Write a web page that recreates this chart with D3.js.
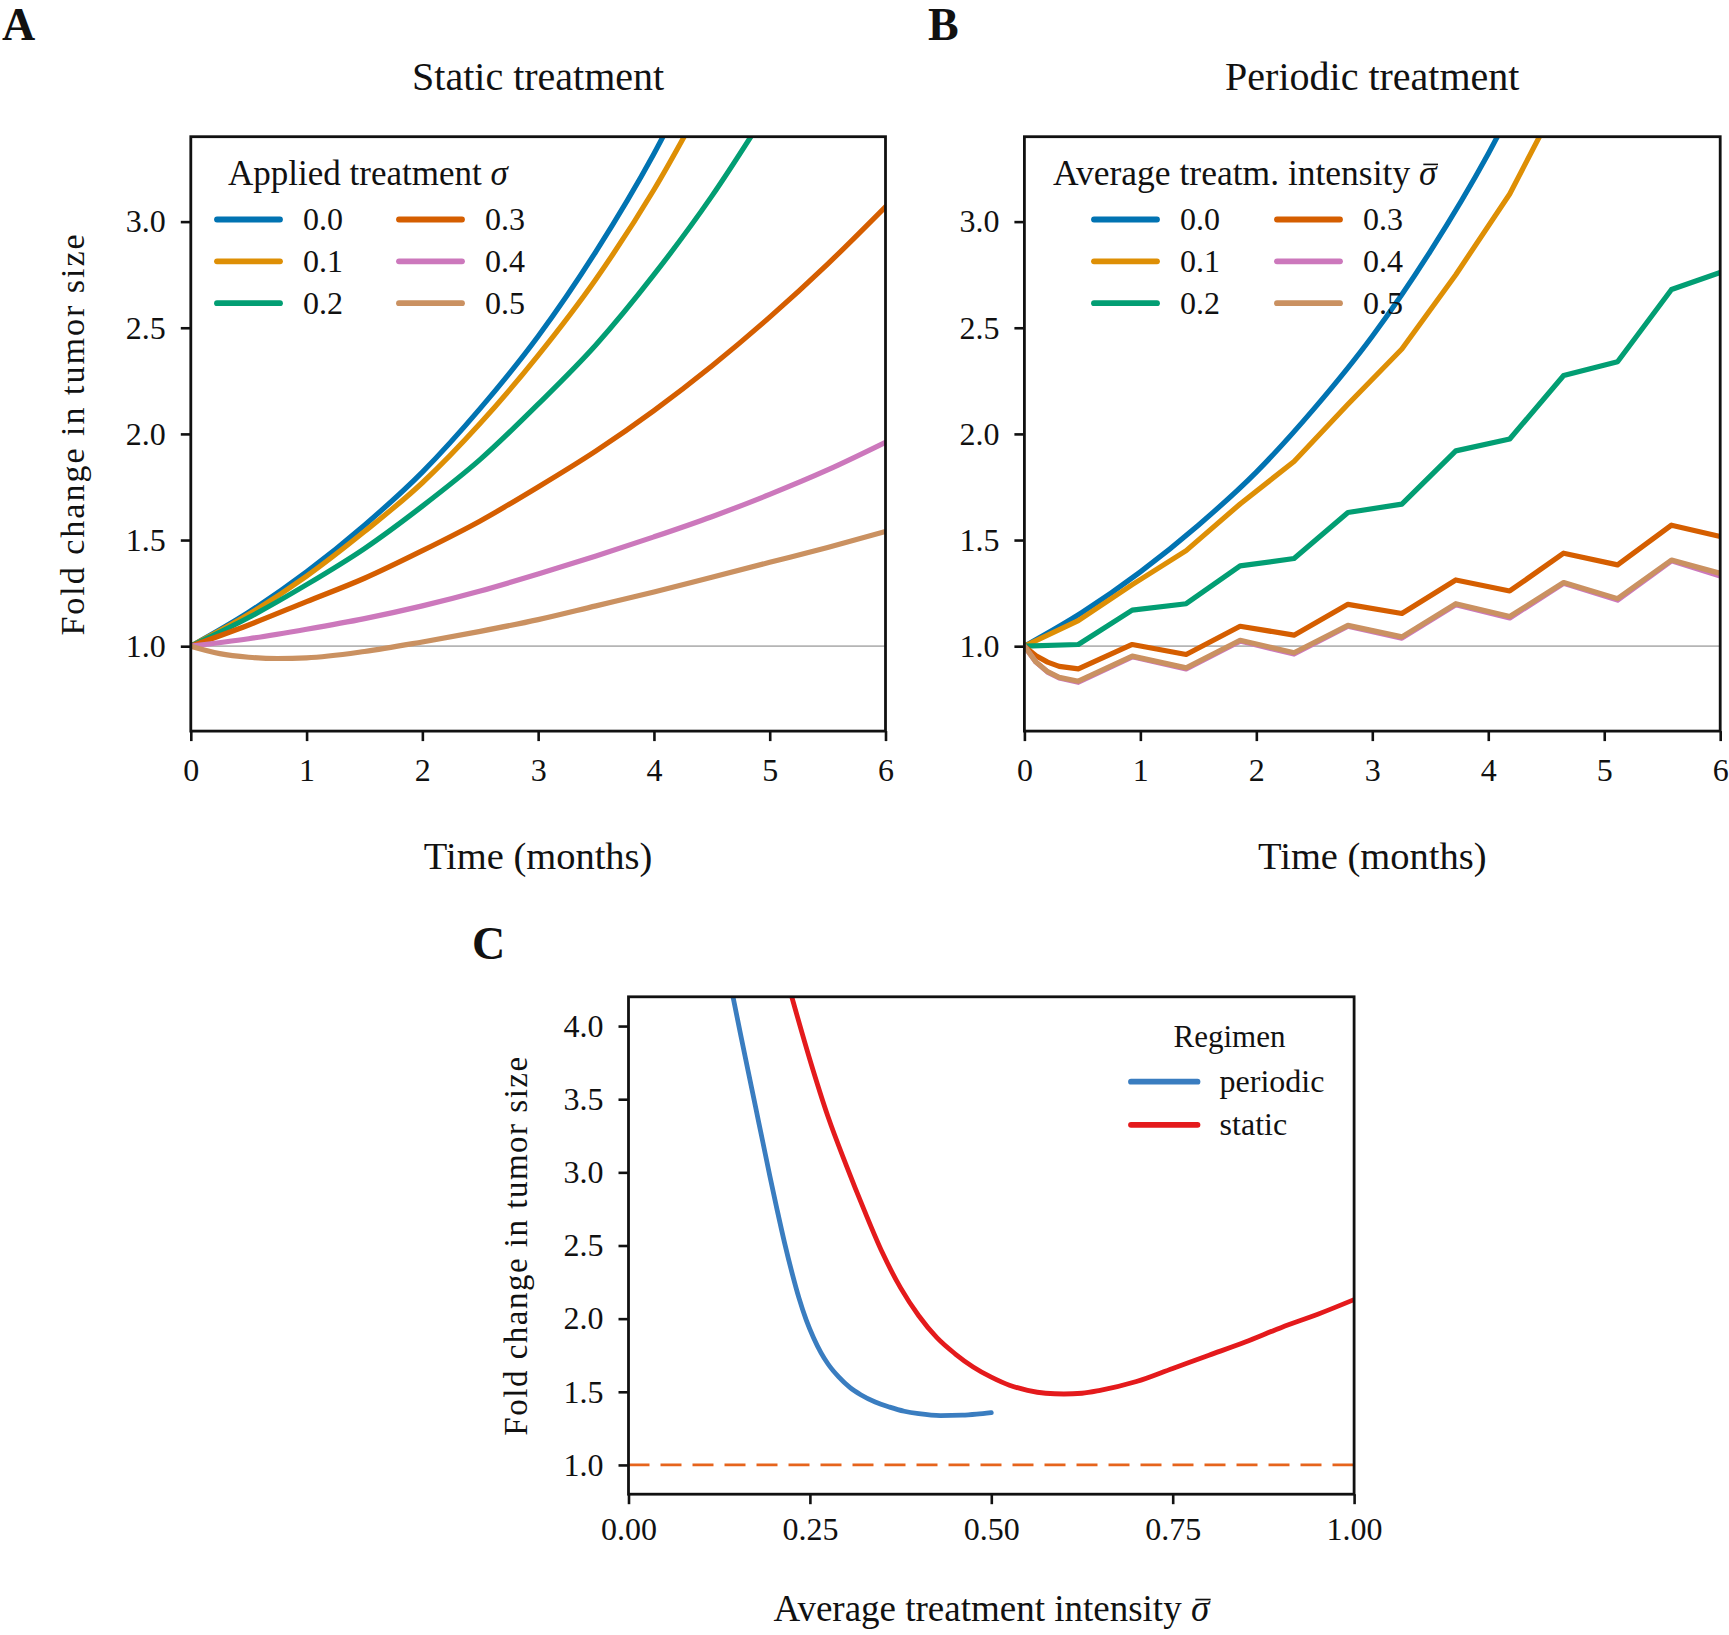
<!DOCTYPE html>
<html>
<head>
<meta charset="utf-8">
<script src="https://cdn.jsdelivr.net/npm/d3@7"></script>
<style>
  body { margin: 0; background: #fff; }
  text { font-family: "Liberation Serif", "DejaVu Serif", serif; fill: #111; }
</style>
</head>
<body>
<svg id="chart" width="1729" height="1635"></svg>
<script>
// ---------------- DATA ----------------
const monthTicks = [0, 1, 2, 3, 4, 5, 6];
const foldTicksAB = [1.0, 1.5, 2.0, 2.5, 3.0];
const sigmaTicks = [0, 0.25, 0.5, 0.75, 1.0];
const foldTicksC = [1.0, 1.5, 2.0, 2.5, 3.0, 3.5, 4.0];
const legendLabels = ["0.0", "0.1", "0.2", "0.3", "0.4", "0.5"];
const regimenLabels = ["periodic", "static"];

// Panel A: static treatment, [time (months), fold change]
const staticS00 = [[0,1],[0.5,1.16],[1,1.35],[1.5,1.57],[2,1.82],[2.5,2.12],[3,2.46],[3.5,2.86],[4,3.32],[4.5,3.86]];
const staticS01 = [[0,1],[0.5,1.15],[1,1.33],[1.5,1.54],[2,1.77],[2.5,2.05],[3,2.37],[3.5,2.73],[4,3.15],[4.5,3.64]];
const staticS02 = [[0,1],[0.5,1.135],[1,1.29],[1.5,1.46],[2,1.66],[2.5,1.88],[3,2.14],[3.5,2.42],[4,2.75],[4.5,3.12],[5,3.54]];
const staticS03 = [[0,1],[0.5,1.10],[1,1.21],[1.5,1.32],[2,1.45],[2.5,1.59],[3,1.75],[3.5,1.92],[4,2.11],[4.5,2.32],[5,2.55],[5.5,2.80],[6,3.07]];
const staticS04 = [[0,1],[0.5,1.035],[1,1.08],[1.5,1.13],[2,1.19],[2.5,1.26],[3,1.34],[3.5,1.425],[4,1.515],[4.5,1.61],[5,1.715],[5.5,1.83],[6,1.96]];
const staticS05 = [[0,1],[0.25,0.965],[0.5,0.948],[0.75,0.942],[1,0.945],[1.5,0.975],[2,1.02],[2.5,1.07],[3,1.125],[3.5,1.19],[4,1.255],[4.5,1.325],[5,1.395],[5.5,1.465],[6,1.54]];

// Panel B: periodic treatment
const periodicS00 = [[0,1],[0.5,1.16],[1,1.35],[1.5,1.57],[2,1.82],[2.5,2.12],[3,2.46],[3.5,2.86],[4,3.32],[4.5,3.86]];
const periodicS01 = [[0,1],[0.465,1.12],[0.93,1.29],[1.395,1.45],[1.86,1.67],[2.325,1.87],[2.79,2.14],[3.255,2.40],[3.72,2.75],[4.185,3.13],[4.65,3.62]];
const periodicS02 = [[0,1],[0.465,1.008],[0.93,1.17],[1.395,1.20],[1.86,1.378],[2.325,1.413],[2.79,1.63],[3.255,1.669],[3.72,1.92],[4.185,1.976],[4.65,2.275],[5.115,2.34],[5.58,2.68],[6,2.76]];
const periodicS03 = [[0,1],[0.1,0.955],[0.2,0.925],[0.3,0.905],[0.465,0.893],[0.93,1.008],[1.395,0.961],[1.86,1.094],[2.325,1.052],[2.79,1.197],[3.255,1.154],[3.72,1.312],[4.185,1.26],[4.65,1.438],[5.115,1.383],[5.58,1.57],[6,1.517]];
const periodicS04 = [[0,1],[0.1,0.925],[0.2,0.878],[0.3,0.85],[0.465,0.83],[0.93,0.95],[1.395,0.893],[1.86,1.024],[2.325,0.963],[2.79,1.094],[3.255,1.038],[3.72,1.195],[4.185,1.133],[4.65,1.296],[5.115,1.217],[5.58,1.402],[6,1.33]];
const periodicS05 = [[0,1],[0.1,0.925],[0.2,0.88],[0.3,0.853],[0.465,0.835],[0.93,0.953],[1.395,0.898],[1.86,1.028],[2.325,0.969],[2.79,1.098],[3.255,1.044],[3.72,1.20],[4.185,1.14],[4.65,1.30],[5.115,1.224],[5.58,1.406],[6,1.343]];

// Panel C: [average intensity, fold change]
const regimenPeriodic = [[0.144,4.2],[0.155,3.93],[0.165,3.69],[0.175,3.45],[0.185,3.21],[0.195,2.97],[0.205,2.74],[0.215,2.52],[0.225,2.32],[0.235,2.14],[0.245,1.99],[0.255,1.87],[0.265,1.77],[0.275,1.69],[0.29,1.60],[0.305,1.53],[0.32,1.48],[0.34,1.43],[0.36,1.395],[0.38,1.367],[0.40,1.35],[0.43,1.337],[0.46,1.34],[0.48,1.347],[0.5,1.357]];
const regimenStatic = [[0.225,4.2],[0.25,3.77],[0.275,3.38],[0.3,3.05],[0.325,2.74],[0.35,2.45],[0.375,2.21],[0.4,2.02],[0.425,1.87],[0.45,1.76],[0.475,1.67],[0.5,1.60],[0.525,1.545],[0.55,1.51],[0.575,1.49],[0.6,1.485],[0.625,1.49],[0.65,1.51],[0.7,1.57],[0.75,1.66],[0.8,1.75],[0.85,1.84],[0.9,1.94],[0.95,2.03],[1.0,2.13]];
const referenceLevel = 1.0;

// ---------------- STYLE ----------------
const palette = ["#0173b2", "#de8f05", "#029e73", "#d55e00", "#cc78bc", "#ca9161"];
const regimenColors = ["#3a7dc0", "#e41a1c"];
const dashColor = "#e6641c";

const svg = d3.select("#chart");

function frame(g, w, h) {
  g.append("rect").attr("x", 0).attr("y", 0).attr("width", w).attr("height", h)
    .attr("fill", "none").attr("stroke", "#111").attr("stroke-width", 2.8);
}

function styleAxis(sel, fs) {
  sel.select(".domain").remove();
  sel.selectAll(".tick line").attr("stroke", "#111").attr("stroke-width", 2.6);
  sel.selectAll(".tick text").attr("font-size", fs).attr("fill", "#111")
    .style("font-family", '"Liberation Serif", serif');
}

// text ending with an italic sigma with a bar over it
function sigmaBarText(parent, x, y, fs, prefix, anchor) {
  const t = parent.append("text").attr("x", x).attr("y", y).attr("font-size", fs)
    .attr("text-anchor", anchor || "start");
  t.append("tspan").text(prefix);
  t.append("tspan").attr("font-style", "italic").text("σ");
  const node = t.node();
  const n = node.getNumberOfChars();
  const r = node.getExtentOfChar(n - 1);
  const yb = y - fs * 0.58;
  parent.append("line").attr("x1", r.x + fs * 0.12).attr("x2", r.x + r.width + fs * 0.04)
    .attr("y1", yb).attr("y2", yb).attr("stroke", "#111").attr("stroke-width", fs * 0.045);
  return t;
}

function panelAB(opts) {
  const {left, top, right, bottom, series, title, id, smooth} = opts;
  const w = right - left, h = bottom - top;
  const g = svg.append("g").attr("transform", `translate(${left},${top})`);
  const x = d3.scaleLinear().domain([0, 6]).range([0, w]);
  const y = d3.scaleLinear().domain([0.6, 3.4]).range([h, 0]);

  g.append("clipPath").attr("id", id).append("rect").attr("width", w).attr("height", h);

  const xa = g.append("g").attr("transform", `translate(0,${h})`)
    .call(d3.axisBottom(x).tickValues(monthTicks).tickFormat(d3.format("d")).tickSize(10).tickPadding(17));
  styleAxis(xa, 32);
  const ya = g.append("g")
    .call(d3.axisLeft(y).tickValues(foldTicksAB).tickFormat(d3.format(".1f")).tickSize(10).tickPadding(15));
  styleAxis(ya, 32);

  const plot = g.append("g").attr("clip-path", `url(#${id})`);
  plot.append("line").attr("x1", 0).attr("x2", w).attr("y1", y(referenceLevel)).attr("y2", y(referenceLevel))
    .attr("stroke", "#b5b5b5").attr("stroke-width", 1.8);

  series.forEach((s, i) => {
    const line = d3.line().x(d => x(d[0])).y(d => y(d[1]))
      .curve(smooth[i] ? d3.curveMonotoneX : d3.curveLinear);
    plot.append("path").datum(s).attr("d", line).attr("fill", "none")
      .attr("stroke", palette[i]).attr("stroke-width", 5.2)
      .attr("stroke-linejoin", "round").attr("stroke-linecap", "round");
  });
  frame(g, w, h);

  g.append("text").attr("x", w / 2).attr("y", 90 - top).attr("text-anchor", "middle")
    .attr("font-size", 40).text(title);
  g.append("text").attr("x", w / 2).attr("y", 869 - top).attr("text-anchor", "middle")
    .attr("font-size", 38.5).text("Time (months)");

  // legend
  const lg = g.append("g");
  opts.legendTitle(lg, opts.legTitleX - left, 185 - top);
  const rowsY = [219.5, 261.3, 303.2];
  legendLabels.forEach((lab, i) => {
    const col = Math.floor(i / 3), row = i % 3;
    const x1 = opts.legLineX[col] - left;
    const yy = rowsY[row] - top;
    lg.append("line").attr("x1", x1).attr("x2", x1 + 63).attr("y1", yy).attr("y2", yy)
      .attr("stroke", palette[i]).attr("stroke-width", 5.8).attr("stroke-linecap", "round");
    lg.append("text").attr("x", x1 + 86).attr("y", yy + 11).attr("font-size", 32).text(lab);
  });
  return g;
}

// Panel A
panelAB({
  left: 190.8, top: 136.7, right: 885.5, bottom: 731.1, id: "clipA",
  smooth: [true, true, true, true, true, true],
  series: [staticS00, staticS01, staticS02, staticS03, staticS04, staticS05],
  title: "Static treatment",
  legTitleX: 228, legLineX: [217, 399],
  legendTitle: (p, x, y) => {
    const t = p.append("text").attr("x", x).attr("y", y).attr("font-size", 35);
    t.append("tspan").text("Applied treatment ");
    t.append("tspan").attr("font-style", "italic").text("σ");
  }
});
// Panel B
panelAB({
  left: 1024.4, top: 136.7, right: 1720.2, bottom: 731.1, id: "clipB",
  smooth: [true, false, false, false, false, false],
  series: [periodicS00, periodicS01, periodicS02, periodicS03, periodicS04, periodicS05],
  title: "Periodic treatment",
  legTitleX: 1053, legLineX: [1094, 1277],
  legendTitle: (p, x, y) => sigmaBarText(p, x, y, 35.5, "Average treatm. intensity ")
});

// y label for panels A and B
svg.append("text").attr("transform", "translate(84,434) rotate(-90)").attr("text-anchor", "middle")
  .attr("font-size", 34).attr("letter-spacing", 2).text("Fold change in tumor size");

// Panel letters
svg.append("text").attr("x", 2).attr("y", 40).attr("font-size", 46).attr("font-weight", "bold").text("A");
svg.append("text").attr("x", 928).attr("y", 40).attr("font-size", 46).attr("font-weight", "bold").text("B");
svg.append("text").attr("x", 472).attr("y", 959).attr("font-size", 46).attr("font-weight", "bold").text("C");

// Panel C
(function () {
  const left = 628.5, top = 996.8, right = 1354.1, bottom = 1494.2;
  const w = right - left, h = bottom - top;
  const g = svg.append("g").attr("transform", `translate(${left},${top})`);
  const x = d3.scaleLinear().domain([0, 1]).range([0, w]);
  const y = d3.scaleLinear().domain([0.8, 4.2]).range([h, 0]);
  g.append("clipPath").attr("id", "clipC").append("rect").attr("width", w).attr("height", h);

  const xa = g.append("g").attr("transform", `translate(0,${h})`)
    .call(d3.axisBottom(x).tickValues(sigmaTicks).tickFormat(d3.format(".2f")).tickSize(10).tickPadding(13));
  styleAxis(xa, 32);
  const ya = g.append("g")
    .call(d3.axisLeft(y).tickValues(foldTicksC).tickFormat(d3.format(".1f")).tickSize(10).tickPadding(15));
  styleAxis(ya, 32);

  const plot = g.append("g").attr("clip-path", "url(#clipC)");
  const line = d3.line().x(d => x(d[0])).y(d => y(d[1])).curve(d3.curveMonotoneX);
  [regimenPeriodic, regimenStatic].forEach((s, i) => {
    plot.append("path").datum(s).attr("d", line).attr("fill", "none")
      .attr("stroke", regimenColors[i]).attr("stroke-width", 4.8).attr("stroke-linecap", "round");
  });
  plot.append("line").attr("x1", 0).attr("x2", w).attr("y1", y(referenceLevel)).attr("y2", y(referenceLevel))
    .attr("stroke", dashColor).attr("stroke-width", 2.8).attr("stroke-dasharray", "21,11");
  frame(g, w, h);

  // legend
  g.append("text").attr("x", 1229.5 - left).attr("y", 1047.5 - top).attr("text-anchor", "middle")
    .attr("font-size", 31).text("Regimen");
  const ly = [1081.7, 1124.8];
  regimenLabels.forEach((lab, i) => {
    g.append("line").attr("x1", 1131 - left).attr("x2", 1197.5 - left).attr("y1", ly[i] - top).attr("y2", ly[i] - top)
      .attr("stroke", regimenColors[i]).attr("stroke-width", 5.8).attr("stroke-linecap", "round");
    g.append("text").attr("x", 1219.6 - left).attr("y", ly[i] - top + 10).attr("font-size", 32).text(lab);
  });

  // axis labels
  sigmaBarText(g, w / 2, 1621 - top, 37, "Average treatment intensity ", "middle");
  svg.append("text").attr("transform", `translate(527,${(top + bottom) / 2}) rotate(-90)`).attr("text-anchor", "middle")
    .attr("font-size", 33).attr("letter-spacing", 1.5).text("Fold change in tumor size");
})();
</script>
</body>
</html>
